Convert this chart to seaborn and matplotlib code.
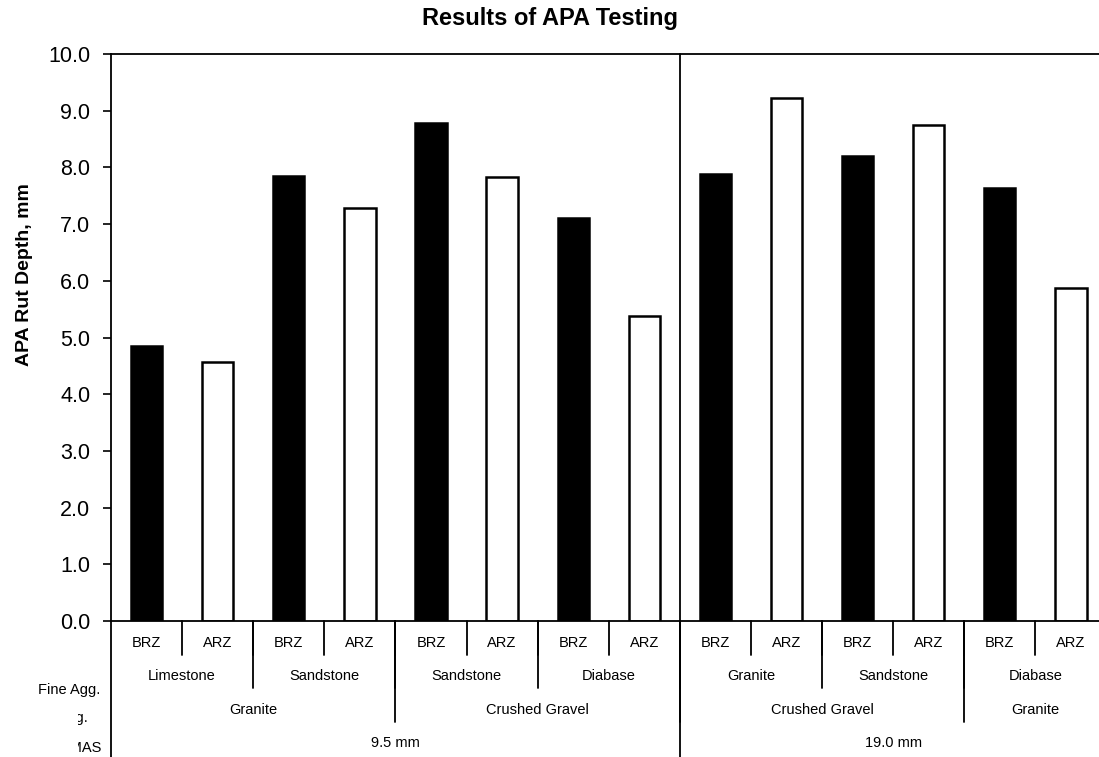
import matplotlib
matplotlib.use('Agg')
import matplotlib.pyplot as plt
import matplotlib.patches as mpatches
import seaborn as sns
import pandas as pd

# APA rut depth results (mm)
zone = ['BRZ', 'ARZ'] * 7
fine_agg = ['Limestone', 'Sandstone', 'Sandstone', 'Diabase',
            'Granite', 'Sandstone', 'Diabase']
coarse_agg = ['Granite', 'Crushed Gravel', 'Crushed Gravel', 'Granite']
coarse_span = [2, 2, 2, 1]          # number of fine-agg groups under each coarse label
nmas = ['9.5 mm', '19.0 mm']
nmas_span = [4, 3]
rut_depth = [4.85, 4.56, 7.85, 7.28, 8.78, 7.83, 7.10, 5.38,
             7.88, 9.22, 8.20, 8.75, 7.63, 5.88]

df = pd.DataFrame({
    'bar': [f'{i}' for i in range(len(rut_depth))],
    'zone': zone,
    'rut': rut_depth,
})

sns.set_style('white')
plt.rcParams['font.family'] = ['Liberation Sans', 'DejaVu Sans']
plt.rcParams['text.color'] = 'black'
plt.rcParams['ytick.color'] = 'black'
plt.rcParams['axes.labelcolor'] = 'black'

W, H = 1099, 757
fig = plt.figure(figsize=(W / 100, H / 100), dpi=100)
ax = fig.add_axes([111 / W, 1 - 621 / H, 995.5 / W, 567 / H])

sns.barplot(data=df, x='bar', y='rut', hue='zone',
            palette={'BRZ': 'black', 'ARZ': 'white'},
            dodge=False, width=0.44, edgecolor='black', linewidth=1.8,
            legend=False, ax=ax)

ax.set_xlim(-0.5, len(rut_depth) - 0.5)
ax.set_ylim(0, 10)
ax.set_yticks(range(0, 11))
ax.set_yticklabels([f'{v:.1f}' for v in range(0, 11)], fontsize=15.5)
ax.tick_params(axis='y', direction='out', length=6, width=1.2, pad=9, left=True)
ax.set_xticks([])
ax.set_xlabel('')
ax.set_ylabel('')
for side in ['left', 'bottom', 'top', 'right']:
    ax.spines[side].set_visible(True)
    ax.spines[side].set_color('black')
    ax.spines[side].set_linewidth(1.3)

tr = ax.get_xaxis_transform()
px = 1 / 567  # axes fraction per pixel (vertical)


def vline(x, y_bottom_px, y_top=0.0):
    ax.plot([x, x], [y_top, -(y_bottom_px - 621) * px], color='black',
            lw=1.3, transform=tr, clip_on=False)


# row 1: BRZ / ARZ
for i, z in enumerate(zone):
    ax.text(i, -(643 - 621) * px, z, transform=tr, ha='center', va='center', fontsize=10.5)
for i in range(len(zone) - 1):
    vline(i + 0.5, 655)

# row 2: fine aggregate
for j, f in enumerate(fine_agg):
    ax.text(2 * j + 0.5, -(676 - 621) * px, f, transform=tr, ha='center', va='center', fontsize=10.5)
for j in range(1, len(fine_agg)):
    vline(2 * j - 0.5, 688)

# row 3: coarse aggregate
start = 0
for c, s in zip(coarse_agg, coarse_span):
    ax.text(start * 2 + s - 0.5, -(710 - 621) * px, c, transform=tr,
            ha='center', va='center', fontsize=10.5)
    start += s
    if start < len(fine_agg):
        vline(start * 2 - 0.5, 722)

# row 4: NMAS
start = 0
for n, s in zip(nmas, nmas_span):
    ax.text(start * 2 + s - 0.5, -(743 - 621) * px, n, transform=tr,
            ha='center', va='center', fontsize=10.5)
    start += s
    if start < len(fine_agg):
        vline(start * 2 - 0.5, 757, y_top=1.0)

# left spine continues down through the label rows
ax.plot([0, 0], [0, -(757 - 621) * px], color='black', lw=1.3,
        transform=ax.transAxes, clip_on=False)

# row titles (partly hidden in the original)
fig.text(100 / W, 1 - 690 / H, 'Fine Agg.', ha='right', va='center', fontsize=10.5)
fig.text(88 / W, 1 - 718 / H, 'Coarse Agg.', ha='right', va='center', fontsize=10.5)
fig.text(102 / W, 1 - 748 / H, 'NMAS', ha='right', va='center', fontsize=10.5)
fig.patches.append(mpatches.Rectangle((0, 0), 78 / W, 1 - 704 / H, transform=fig.transFigure,
                                      facecolor='white', edgecolor='none', zorder=10))

fig.text(25 / W, 1 - 275 / H, 'APA Rut Depth, mm', rotation=90, ha='center', va='center',
         fontsize=14, fontweight='bold')
fig.text(550 / W, 1 - 18 / H, 'Results of APA Testing', ha='center', va='center',
         fontsize=17, fontweight='bold')

fig.savefig('out.png', dpi=100, facecolor='white')
